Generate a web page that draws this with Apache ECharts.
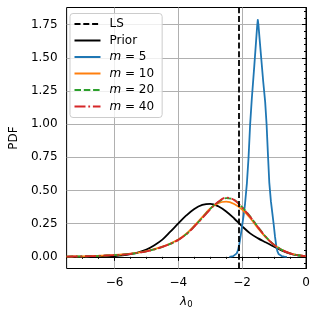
<!DOCTYPE html>
<html><head><meta charset="utf-8">
<script src="https://cdn.jsdelivr.net/npm/echarts@6/dist/echarts.min.js"></script>
<style>html,body{margin:0;padding:0;background:#fff}#c{width:319px;height:318px}</style>
</head><body><div id="c"></div>
<script>
// ---- data ----
const LS = -2.12;
const xGrid = [-7.5,-7.25,-7.0,-6.75,-6.5,-6.25,-6.0,-5.75,-5.5,-5.25,-5.0,-4.75,-4.5,-4.25,-4.0,-3.75,-3.5,-3.25,-3.0,-2.75,-2.5,-2.25,-2.0,-1.75,-1.5,-1.25,-1.0,-0.75,-0.5,-0.25,0];
const prior = [0.000,0.000,0.000,0.000,0.001,0.003,0.006,0.011,0.020,0.034,0.055,0.088,0.130,0.190,0.252,0.312,0.361,0.391,0.400,0.381,0.342,0.289,0.230,0.177,0.139,0.108,0.076,0.047,0.025,0.012,0.005];
const m10 = [0.002,0.003,0.004,0.006,0.008,0.011,0.014,0.018,0.024,0.032,0.043,0.058,0.077,0.100,0.130,0.174,0.235,0.300,0.365,0.405,0.416,0.398,0.356,0.293,0.215,0.145,0.090,0.052,0.027,0.013,0.006];
const m20 = [0.002,0.003,0.004,0.005,0.007,0.010,0.013,0.017,0.023,0.031,0.042,0.056,0.075,0.098,0.128,0.171,0.229,0.294,0.362,0.412,0.442,0.430,0.374,0.305,0.224,0.149,0.091,0.052,0.026,0.012,0.006];
const m40 = [0.002,0.003,0.004,0.005,0.007,0.010,0.013,0.017,0.023,0.031,0.042,0.056,0.075,0.098,0.128,0.170,0.228,0.292,0.358,0.415,0.447,0.428,0.372,0.302,0.222,0.148,0.090,0.052,0.026,0.012,0.006];
const x5 = [-2.40,-2.34,-2.28,-2.22,-2.17,-2.13,-2.09,-2.04,-2.00,-1.95,-1.91,-1.85,-1.80,-1.75,-1.70,-1.62,-1.56,-1.53,-1.51,-1.49,-1.46,-1.40,-1.34,-1.28,-1.235,-1.19,-1.15,-1.10,-1.05,-1.01,-0.97,-0.93,-0.90,-0.86,-0.82,-0.76,-0.68,-0.60];
const m5 = [0.000,0.002,0.005,0.012,0.026,0.050,0.095,0.170,0.235,0.320,0.400,0.560,0.750,1.000,1.184,1.440,1.640,1.740,1.786,1.750,1.660,1.490,1.320,1.170,1.000,0.760,0.560,0.420,0.320,0.240,0.150,0.080,0.045,0.022,0.012,0.006,0.002,0.000];
const xTicks = [-6,-4,-2,0];
const yTicks = [0,0.25,0.5,0.75,1.0,1.25,1.5,1.75];
const xMin = -7.5, xMax = 0, yMin = -0.088, yMax = 1.88;

// ---- chart ----
const FONT = 'DejaVu Sans';
const minorX = []; for (let v = -7.5; v <= 0.001; v += 0.5) minorX.push(+v.toFixed(2));
const minorY = []; for (let v = -0.05; v <= 1.86; v += 0.05) minorY.push(+v.toFixed(2));
const pairs = (xs, ys) => xs.map((x, i) => [x, ys[i]]);
const fmtNum = (v, d) => { const s = Number(v).toFixed(d); return s.replace('-', '\u2212'); };
const nameMap = {LS:'LS', Prior:'Prior', m5:'{i|m} = 5', m10:'{i|m} = 10', m20:'{i|m} = 20', m40:'{i|m} = 40'};

const chart = echarts.init(document.getElementById('c'), null, {renderer:'canvas'});
const LW = 1.8;
chart.setOption({
  animation: false,
  textStyle: {fontFamily: FONT},
  grid: {left: 65, right: 13, top: 7.5, bottom: 49.5, show: true, borderColor: '#000', borderWidth: 1, backgroundColor: 'transparent'},
  legend: {
    orient: 'vertical', left: 70, top: 13.5,
    itemWidth: 26, itemHeight: 12, itemGap: 4.5,
    padding: [4.5, 8, 5, 3.5],
    borderColor: '#cccccc', borderWidth: 1, borderRadius: 3,
    backgroundColor: 'rgba(255,255,255,0.8)',
    data: ['LS','Prior','m5','m10','m20','m40'],
    itemStyle: {opacity: 0, color: 'transparent', borderWidth: 0},
    formatter: n => nameMap[n],
    textStyle: {fontFamily: FONT, fontSize: 12, color: '#000', padding: [0,0,0,4], lineHeight: 12,
      rich: {i: {fontFamily: FONT, fontStyle: 'italic', fontSize: 12, color: '#000'}}}
  },
  xAxis: [{
    type: 'value', min: xMin, max: xMax, position: 'bottom',
    axisLine: {show: true, lineStyle: {color: '#000', width: 1}},
    axisTick: {show: true, length: 4, lineStyle: {color: '#000'}, customValues: xTicks},
    axisLabel: {customValues: xTicks, fontFamily: FONT, fontSize: 12, color: '#000', margin: 8, formatter: v => fmtNum(v, 0)},
    splitLine: {show: true, lineStyle: {color: '#b0b0b0', width: 1}},
    name: '{l|λ}{s|0}', nameLocation: 'middle', nameGap: 26,
    nameTextStyle: {rich: {l: {fontFamily: FONT, fontStyle: 'italic', fontSize: 12, color: '#000'}, s: {fontFamily: FONT, fontSize: 8.5, color: '#000', verticalAlign: 'bottom', padding: [6,0,0,0]}}}
  }, {
    type: 'value', min: xMin, max: xMax, position: 'bottom', offset: 0,
    axisLine: {show: false}, splitLine: {show: false}, axisLabel: {show: false},
    axisTick: {show: true, length: 2, lineStyle: {color: '#000'}, customValues: minorX}
  }],
  yAxis: [{
    type: 'value', min: yMin, max: yMax, position: 'left',
    axisLine: {show: true, lineStyle: {color: '#000', width: 1}},
    axisTick: {show: true, length: 4, lineStyle: {color: '#000'}, customValues: yTicks},
    axisLabel: {customValues: yTicks, fontFamily: FONT, fontSize: 12, color: '#000', margin: 9, formatter: v => fmtNum(v, 2)},
    splitLine: {show: true, lineStyle: {color: '#b0b0b0', width: 1}},
    name: 'PDF', nameLocation: 'middle', nameGap: 46,
    nameTextStyle: {fontFamily: FONT, fontSize: 12, color: '#000'}
  }, {
    type: 'value', min: yMin, max: yMax, position: 'left', offset: 0,
    axisLine: {show: false}, splitLine: {show: false}, axisLabel: {show: false},
    axisTick: {show: true, length: 2, lineStyle: {color: '#000'}, customValues: minorY}
  }],
  series: [
    {name: 'LS', type: 'line', data: [], symbol: 'none', color: '#000',
      lineStyle: {color: '#000', width: LW, type: [6, 2.8]},
      markLine: {silent: true, symbol: 'none', label: {show: false},
        lineStyle: {color: '#000', width: LW, type: [6, 2.8]}, data: [{xAxis: LS}]}},
    {name: 'Prior', type: 'line', data: pairs(xGrid, prior), symbol: 'none', smooth: 0.35, color: '#000',
      lineStyle: {color: '#000', width: LW}},
    {name: 'm5', type: 'line', data: pairs(x5, m5), symbol: 'none', smooth: false, color: '#1f77b4',
      lineStyle: {color: '#1f77b4', width: LW, join: 'round'}},
    {name: 'm10', type: 'line', data: pairs(xGrid, m10), symbol: 'none', smooth: 0.35, color: '#ff7f0e',
      lineStyle: {color: '#ff7f0e', width: LW}},
    {name: 'm20', type: 'line', data: pairs(xGrid, m20), symbol: 'none', smooth: 0.35, color: '#2ca02c',
      lineStyle: {color: '#2ca02c', width: LW, type: [6.5, 2.8]}},
    {name: 'm40', type: 'line', data: pairs(xGrid, m40), symbol: 'none', smooth: 0.35, color: '#d62728',
      lineStyle: {color: '#d62728', width: LW, type: [11, 2.8, 1.8, 2.8]}}
  ]
});
</script></body></html>
